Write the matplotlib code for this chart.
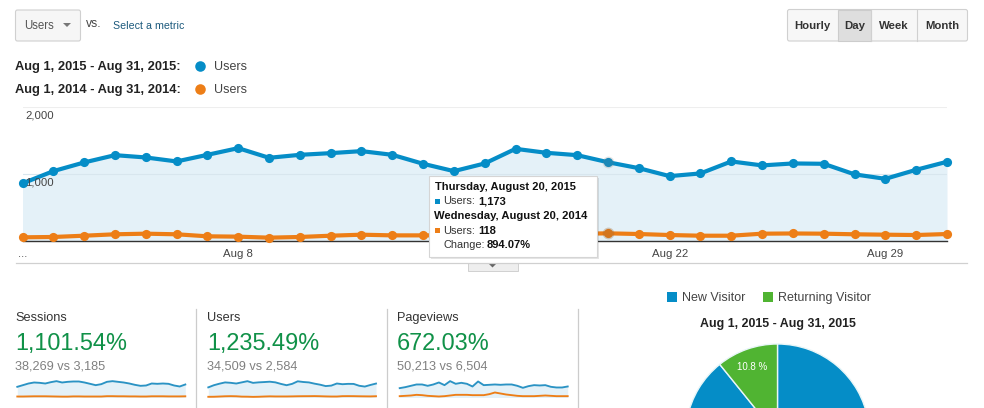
import matplotlib
matplotlib.use('Agg')
import matplotlib.pyplot as plt
from matplotlib.patches import FancyBboxPatch, Rectangle, Polygon

plt.rcParams['font.family'] = ['Liberation Sans', 'DejaVu Sans']

days = list(range(1, 32))
users_2015 = [859, 1041, 1170, 1278, 1244, 1185, 1283, 1382, 1239, 1283, 1308, 1338, 1283, 1150, 1041, 1155,
              1372, 1313, 1278, 1173, 1085, 967, 1007, 1185, 1126, 1155, 1150, 993, 927, 1061, 1180]
users_2014 = [59, 64, 83, 104, 113, 104, 74, 69, 54, 64, 83, 98, 88, 88, 88, 95,
              105, 110, 112, 118, 108, 93, 83, 83, 113, 116, 113, 104, 98, 93, 108]
sessions_2015 = [980, 1132, 1285, 1377, 1346, 1285, 1408, 1500, 1377, 1438, 1469, 1469, 1377, 1255, 1132, 1224,
                 1438, 1500, 1438, 1377, 1285, 1163, 1071, 1102, 1285, 1255, 1285, 1255, 1102, 1010, 1193]
sessions_2014 = [90, 90, 100, 110, 110, 110, 100, 90, 80, 80, 100, 100, 90, 90, 90, 90,
                 120, 120, 110, 110, 100, 100, 90, 90, 110, 110, 110, 100, 100, 100, 110]
pageviews_2015 = [1232, 1364, 1540, 1716, 1716, 1540, 1716, 1980, 1628, 2156, 1804, 1936, 1804, 1452, 2112, 1628,
                  1672, 1716, 1672, 1716, 1716, 1540, 1276, 1496, 1628, 1584, 1628, 1408, 1320, 1320, 1452]
pageviews_2014 = [176, 220, 264, 352, 308, 220, 176, 132, 176, 264, 352, 352, 352, 308, 308, 308,
                  440, 660, 528, 396, 308, 220, 176, 176, 176, 220, 264, 220, 176, 176, 176]
visitor_share = [89.2, 10.8]
visitor_names = ['New Visitor', 'Returning Visitor']
hover_day = 20

BLUE = '#058DC7'
ORANGE = '#ED7E17'
GREEN = '#50B432'
FILL = '#E4F1F8'
W, H = 984, 408

fig = plt.figure(figsize=(9.84, 4.08), dpi=100)


def px_axes(x0, y0, x1, y1, **kw):
    # axes placed by pixel box, y measured from the top of the image
    return fig.add_axes([x0 / W, 1 - y1 / H, (x1 - x0) / W, (y1 - y0) / H], **kw)


# main chart
ax = px_axes(22.5, 106.5, 947, 241.3)
ax.fill_between(days, users_2015, color=FILL, lw=0, zorder=1)
ax.set_xlim(1, 31)
ax.set_ylim(0, 2000)
ax.set_yticks([1000, 2000])
ax.set_yticklabels([])
ax.grid(axis='y', color='#D8E6EE', lw=0.8, zorder=2)
ax.get_ygridlines()[1].set_color('#EEEEEE')
ax.set_xticks([1, 8, 22, 29])
ax.set_xticklabels(['...', 'Aug 8', 'Aug 22', 'Aug 29'], fontsize=8.2, color='#444444')
ax.tick_params(length=0, pad=5.7)
for s in ['top', 'left', 'right']:
    ax.spines[s].set_visible(False)
ax.spines['bottom'].set_color('#333333')
ax.spines['bottom'].set_linewidth(1)
ax.plot(days, users_2015, color=BLUE, lw=3, marker='o', ms=6.6, mew=0, clip_on=False, zorder=4)
ax.plot(days, users_2014, color=ORANGE, lw=3, marker='o', ms=6.6, mew=0, clip_on=False, zorder=4)
i = days.index(hover_day)
ax.plot(hover_day, users_2015[i], marker='o', ms=8.5, mew=0, color='#777777', alpha=0.2, clip_on=False, zorder=5)
ax.plot(hover_day, users_2014[i], marker='o', ms=8.5, mew=0, color='#996633', alpha=0.3, clip_on=False, zorder=5)

# sparklines
spark_specs = [
    (17.3, 185.3, sessions_2015, sessions_2014, 1560),
    (208.3, 376, users_2015, users_2014, 1440),
    (399.7, 567.7, pageviews_2015, pageviews_2014, 2240),
]
for x0, x1, cur, prev, top in spark_specs:
    sp = px_axes(x0, 380.5, x1, 397.5)
    sp.fill_between(days, cur, color=FILL, lw=0)
    sp.plot(days, cur, color='#2B93C4', lw=1.35, clip_on=False)
    sp.plot(days, prev, color=ORANGE, lw=1.35, clip_on=False)
    sp.set_xlim(1, 31)
    sp.set_ylim(0, top)
    sp.axis('off')

# pie, cut off by the bottom of the image
pie_ax = px_axes(777.5 - 92, 436 - 92, 777.5 + 92, 436 + 92)
pie_ax.pie(visitor_share, colors=[BLUE, GREEN], startangle=90, counterclock=False, radius=1,
           wedgeprops={'edgecolor': '#E8F6F8', 'linewidth': 1})
pie_ax.set_xlim(-1, 1)
pie_ax.set_ylim(-1, 1)

# page furniture, pixel coordinates
ui = fig.add_axes([0, 0, 1, 1], zorder=10)
ui.set_xlim(0, W)
ui.set_ylim(H, 0)
ui.axis('off')
ui.patch.set_alpha(0)


def label(x, y, s, size=9, color='#333333', weight='normal', ha='left'):
    ui.text(x, y + 0.7, s, fontsize=size, color=color, fontweight=weight, ha=ha, va='center')


def triangle(x, y, w, h, color):
    ui.add_patch(Polygon([(x - w, y - h), (x + w, y - h), (x, y + h)], color=color, lw=0))


# metric picker
ui.add_patch(FancyBboxPatch((15.5, 10), 65, 31, boxstyle='round,pad=0,rounding_size=2',
                            fc='#F6F6F6', ec='#D0D0D0', lw=0.8))
label(24, 25.5, 'Users', 8.3, '#555555')
triangle(67, 25, 4, 2, '#777777')
label(86, 23.5, 'vs.', 8.7, '#444444')
label(113, 25, 'Select a metric', 7.7, '#1C5A7D')

# Hourly / Day / Week / Month
ui.add_patch(FancyBboxPatch((787.5, 9.5), 180, 31.5, boxstyle='round,pad=0,rounding_size=2',
                            fc='#F7F7F7', ec='#D0D0D0', lw=0.8))
btn_edges = [787.5, 838, 871, 917, 967.5]
btn_names = ['Hourly', 'Day', 'Week', 'Month']
for k, name in enumerate(btn_names):
    left, right = btn_edges[k], btn_edges[k + 1]
    if name == 'Day':
        ui.add_patch(Rectangle((left, 9.5), right - left, 31.5, fc='#DEDEDE', ec='#CCCCCC', lw=0.8))
    elif k > 0:
        ui.plot([left, left], [9.5, 41], color='#D0D0D0', lw=0.8)
    label((left + right) / 2, 25, name, 8.2, '#333333', 'bold', 'center')

# legend
for y, period, col in [(66, 'Aug 1, 2015 - Aug 31, 2015:', BLUE), (89, 'Aug 1, 2014 - Aug 31, 2014:', ORANGE)]:
    label(15, y, period, 9.3, '#222222', 'bold')
    ui.plot(200, y, marker='o', ms=7.6, mew=0, color=col)
    label(214, y, 'Users', 9, '#444444')

# y labels sit inside the plot
label(25, 114.5, '2,000', 8.2, '#444444')
label(25, 181.5, '1,000', 8.2, '#444444')

# rule under the chart and expander tab
ui.plot([16, 967], [262.5, 262.5], color='#D0D0D0', lw=0.9)
ui.add_patch(Rectangle((467.5, 262.5), 50, 8, fc='#EEEEEE', ec='#D0D0D0', lw=0.7))
triangle(492.5, 265.5, 4, 2, '#666666')

# tooltip
ui.add_patch(Rectangle((431, 178), 168, 81, fc='#000000', alpha=0.1, lw=0))
ui.add_patch(Rectangle((429, 176), 168, 81, fc='white', ec='#D5D5D5', lw=0.8))
label(435, 186.5, 'Thursday, August 20, 2015', 8.05, '#111111', 'bold')
ui.add_patch(Rectangle((435, 198.5), 5, 5, fc=BLUE, lw=0))
label(443, 200.5, 'Users:', 7.9, '#333333')
label(478.5, 200.5, '1,173', 8.05, '#111111', 'bold')
label(434, 215.5, 'Wednesday, August 20, 2014', 8.15, '#111111', 'bold')
ui.add_patch(Rectangle((435, 228), 5, 5, fc=ORANGE, lw=0))
label(443, 230, 'Users:', 7.9, '#333333')
label(478.5, 230, '118', 8.05, '#111111', 'bold')
label(443, 244, 'Change:', 7.9, '#333333')
label(487, 244, '894.07%', 8.05, '#111111', 'bold')

# KPI blocks
kpi_x = [15, 207, 397]
kpi_names = ['Sessions', 'Users', 'Pageviews']
kpi_change = ['1,101.54%', '1,235.49%', '672.03%']
kpi_totals = ['38,269 vs 3,185', '34,509 vs 2,584', '50,213 vs 6,504']
for x, name, change, total in zip(kpi_x, kpi_names, kpi_change, kpi_totals):
    label(x, 317, name, 9.2, '#333333')
    label(x, 343, change, 16.9, '#109148')
    label(x, 366, total, 9.2, '#808080')
for x in [195.5, 386.5, 577.5]:
    ui.plot([x, x], [309, 408], color='#CCCCCC', lw=0.9)

# pie legend and title
for x, tx, name, col in [(667, 682, visitor_names[0], BLUE), (763, 778, visitor_names[1], GREEN)]:
    ui.add_patch(Rectangle((x, 292), 10, 10, fc=col, lw=0))
    label(tx, 297, name, 9, '#444444')
label(778, 323, 'Aug 1, 2015 - Aug 31, 2015', 8.9, '#222222', 'bold', 'center')
label(752.5, 366, '10.8 %', 7, '#FFFFFF', 'normal', 'center')

fig.savefig('out.png', dpi=100)
